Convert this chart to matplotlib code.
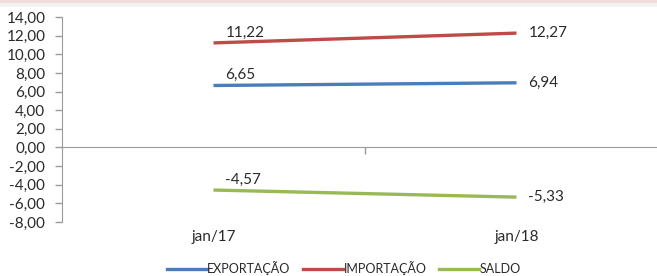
import matplotlib
matplotlib.use("Agg")
import matplotlib.pyplot as plt
from matplotlib.lines import Line2D
from matplotlib.patches import Rectangle

categories = ["jan/17", "jan/18"]
exportacao = [6.65, 6.94]
importacao = [11.22, 12.27]
saldo = [-4.57, -5.33]
series_names = ["EXPORTAÇÃO", "IMPORTAÇÃO", "SALDO"]
colors = ["#4a7ebb", "#be4b48", "#98b954"]
yticks = [-8, -6, -4, -2, 0, 2, 4, 6, 8, 10, 12, 14]

plt.rcParams['font.family'] = ['Lato', 'DejaVu Sans']

W, H = 657, 276
fig = plt.figure(figsize=(W / 100, H / 100), dpi=100)
fig.patch.set_facecolor("white")
# top decorative bands
fig.patches.append(Rectangle((0, 1 - 3 / H), 1, 3 / H, transform=fig.transFigure,
                             facecolor="#f2dcdb", edgecolor="none"))
fig.patches.append(Rectangle((0, 1 - 7 / H), 1, 4 / H, transform=fig.transFigure,
                             facecolor="#f2f2f2", edgecolor="none"))

left_px, right_px = 62, 668
top_px, bot_px = 17, 222
ax = fig.add_axes([left_px / W, 1 - bot_px / H, (right_px - left_px) / W, (bot_px - top_px) / H])
ax.set_facecolor("none")

x = [1, 2]
for vals, c in zip([exportacao, importacao, saldo], colors):
    ax.plot(x, vals, color=c, lw=2.4, solid_capstyle="butt")

ax.set_xlim(0.5, 2.5)
ax.set_ylim(-8, 14)
ax.set_yticks(yticks)
ax.set_yticklabels([f"{v:.2f}".replace(".", ",") for v in yticks])

FS = 11
axis_col = "#9a9a9a"
txt_col = "#2a2a2a"
for s in ["top", "right"]:
    ax.spines[s].set_visible(False)
ax.spines["left"].set_color(axis_col)
ax.spines["bottom"].set_position(("data", 0))
ax.spines["bottom"].set_color(axis_col)
ax.tick_params(axis="y", length=5, width=1, color=axis_col, pad=7, labelsize=FS, labelcolor=txt_col)
ax.set_xticks([1.5])
ax.set_xticklabels([])
ax.tick_params(axis="x", length=5, width=1, color=axis_col, direction="out")

sec = ax.secondary_xaxis(0)
sec.set_xticks(x)
sec.set_xticklabels(categories)
sec.spines["bottom"].set_visible(False)
sec.tick_params(length=0, pad=6, labelsize=FS, labelcolor=txt_col)

fmt = lambda v: f"{v:.2f}".replace(".", ",")
for vals in [exportacao, importacao, saldo]:
    ax.annotate(fmt(vals[0]), (1, vals[0]), xytext=(8.5, 4.5), textcoords="offset points",
                ha="left", va="baseline", fontsize=FS, color=txt_col)
    ax.annotate(fmt(vals[1]), (2, vals[1]), xytext=(8.5, 0), textcoords="offset points",
                ha="left", va="center", fontsize=FS, color=txt_col)

handles = [Line2D([], [], color=c, lw=2.4) for c in colors]
fig.legend(handles, series_names, loc="center", bbox_to_anchor=(344 / W, 1 - 268 / H),
           ncol=3, frameon=False, fontsize=9, handlelength=3.2, handletextpad=0.05,
           columnspacing=1.0, labelcolor=txt_col, borderpad=0.1)

fig.savefig("out.png", dpi=100)
